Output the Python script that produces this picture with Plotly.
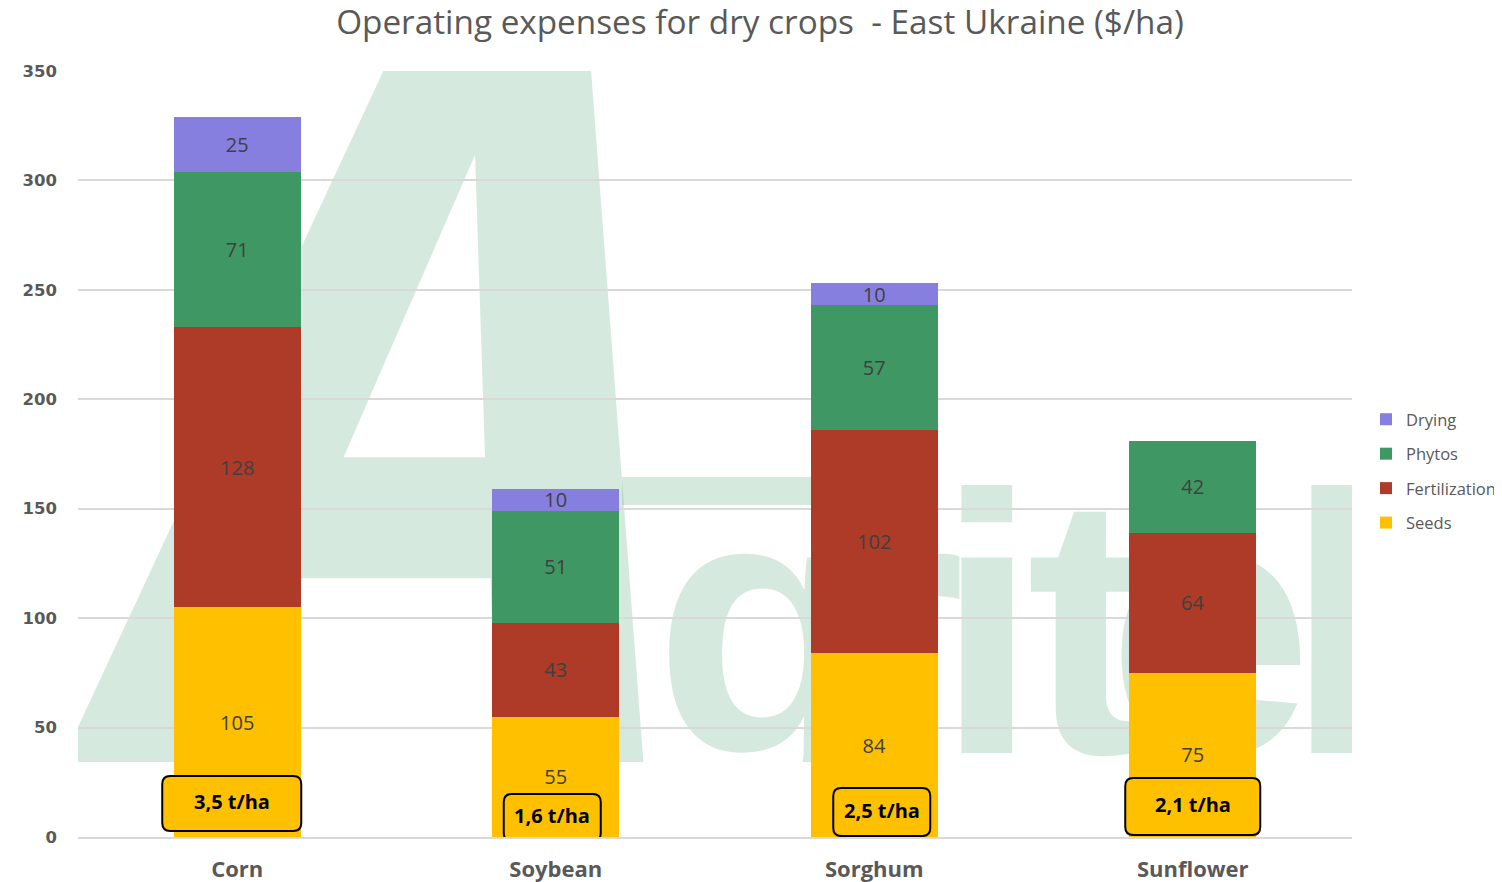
import plotly.graph_objects as go

# ---------------- data ----------------
categories = ["Corn", "Soybean", "Sorghum", "Sunflower"]
seeds = [105, 55, 84, 75]
fertilization = [128, 43, 102, 64]
phytos = [71, 51, 57, 42]
drying = [25, 10, 10, None]
yield_labels = ["3,5 t/ha", "1,6 t/ha", "2,5 t/ha", "2,1 t/ha"]
y_tick_values = [0, 50, 100, 150, 200, 250, 300, 350]

series_names = ["Seeds", "Fertilization", "Phytos", "Drying"]
series_values = [seeds, fertilization, phytos, drying]
series_colors = ["#FFC000", "#AE3A28", "#3F9863", "#877FE0"]
legend_ranks = [4, 3, 2, 1]

# callout boxes (layout only): y-centre in data units, pixel offsets/sizes
callout_y = [15.3, 8.9, 11.4, 13.9]
callout_dx = [-5.5, -3.5, 7.5, 0]
callout_w = [139, 97, 97, 135]
callout_h = [55, 47, 48, 57]

# page body has an 8px margin; build the figure so the plot lands in place
OFF = 8
WIN_W, WIN_H = 1502, 882
W, H = WIN_W - OFF, WIN_H - OFF
PX0, PX1 = 78, 1352          # plot area in window pixels
PY0, PY1 = 71, 837
WM_BOTTOM = 762              # watermark picture is cut here
ML, MT = PX0 - OFF, PY0 - OFF
MR, MB = W - (PX1 - OFF), H - (PY1 - OFF)

fig = go.Figure()

# ---------------- watermark "Agritel" (own subplot, drawn beneath the bars) ----------------
wm_color = "rgba(61,152,98,0.21)"
MID = 0.25  # baseline offset of middle-anchored text, in em
A_size = 1020
fig.add_trace(go.Scatter(
    x=[425], y=[762 - MID * A_size], mode="text", text=["A"],
    textfont=dict(family="DejaVu Sans Mono", size=A_size, color=wm_color,
                  weight="bold", style="italic"),
    xaxis="x", yaxis="y", hoverinfo="skip", showlegend=False, cliponaxis=True))
wm_letters = ["g", "r", "i", "t", "e", "l"]
wm_x = [767, 893, 987, 1088, 1210, 1337]
L_size = 370
fig.add_trace(go.Scatter(
    x=wm_x, y=[753 - MID * L_size] * len(wm_letters), mode="text", text=wm_letters,
    textfont=dict(family="Liberation Sans", size=L_size, color=wm_color, weight="bold"),
    xaxis="x", yaxis="y", hoverinfo="skip", showlegend=False, cliponaxis=True))

# ---------------- stacked bars ----------------
for name, vals, col, rk in zip(series_names, series_values, series_colors, legend_ranks):
    fig.add_trace(go.Bar(
        x=categories, y=vals, name=name, marker=dict(color=col, line=dict(width=0)),
        text=vals, texttemplate="%{y}", textposition="inside", insidetextanchor="middle",
        textangle=0, textfont=dict(family="Open Sans", size=20, color="#404040"),
        xaxis="x2", yaxis="y2", legendgroup=name, legendrank=rk, hoverinfo="x+y+name"))

shapes = [dict(type="rect", xref="x", yref="y", x0=622, x1=900, y0=477, y1=505,
               fillcolor="#d6e9dd", line=dict(width=0), layer="below")]
annotations = []
r = 8
for i, lab in enumerate(yield_labels):
    w2, h2 = callout_w[i] / 2, callout_h[i] / 2
    dx = callout_dx[i]
    x0, x1, y0, y1 = dx - w2, dx + w2, -h2, h2
    path = (f"M{x0 + r},{y0} L{x1 - r},{y0} Q{x1},{y0} {x1},{y0 + r} "
            f"L{x1},{y1 - r} Q{x1},{y1} {x1 - r},{y1} L{x0 + r},{y1} "
            f"Q{x0},{y1} {x0},{y1 - r} L{x0},{y0 + r} Q{x0},{y0} {x0 + r},{y0} Z")
    shapes.append(dict(type="path", xref="x2", yref="y2", xsizemode="pixel", ysizemode="pixel",
                       xanchor=i, yanchor=callout_y[i], path=path,
                       fillcolor="#FFC000", line=dict(color="#000000", width=2), layer="above"))
    annotations.append(dict(x=categories[i], y=callout_y[i], xref="x2", yref="y2", text=lab,
                            showarrow=False, xshift=dx, yshift=2,
                            font=dict(family="Open Sans", size=20, color="#000000", weight="bold")))

fig.update_layout(
    width=W, height=H,
    margin=dict(l=ML, r=MR, t=MT, b=MB, autoexpand=False),
    paper_bgcolor="white", plot_bgcolor="rgba(0,0,0,0)",
    barmode="stack", bargap=0.6,
    uniformtext=dict(minsize=20, mode="show"),
    title=dict(text="Operating expenses for dry crops \u00a0- East Ukraine ($/ha)",
               x=(760 - OFF) / W, xref="container", xanchor="center",
               y=1 - (22.5 - OFF) / H, yref="container", yanchor="middle",
               font=dict(family="Open Sans", size=33.3, color="#595959")),
    xaxis=dict(domain=[0, 1], anchor="y", range=[PX0, PX1], visible=False, fixedrange=True),
    yaxis=dict(domain=[(PY1 - WM_BOTTOM) / (PY1 - PY0), 1], anchor="x",
               range=[WM_BOTTOM, PY0], visible=False, fixedrange=True),
    xaxis2=dict(domain=[0, 1], anchor="y2", type="category", range=[-0.5, 3.5],
                showgrid=False, showline=True, linecolor="#d9d9d9", linewidth=1.5,
                ticks="", ticklabelstandoff=12, automargin=False,
                tickfont=dict(family="Open Sans", size=22, color="#595959", weight="bold")),
    yaxis2=dict(domain=[0, 1], anchor="x2", side="left", range=[0, 350],
                tickvals=y_tick_values, showgrid=True, gridcolor="#d9d9d9", gridwidth=1.5,
                zeroline=False, showline=False, ticks="", ticklabelstandoff=20, automargin=False,
                tickfont=dict(family="DejaVu Sans", size=16.5, color="#595959", weight="bold")),
    legend=dict(xref="container", x=(1366 - OFF) / W, xanchor="left",
                yref="container", y=1 - (471 - OFF) / H, yanchor="middle",
                traceorder="grouped", tracegroupgap=10,
                font=dict(family="Open Sans", size=16.5, color="#595959"),
                bgcolor="rgba(0,0,0,0)"),
    shapes=shapes,
    annotations=annotations,
    showlegend=True,
)

fig.write_html("out.html")
